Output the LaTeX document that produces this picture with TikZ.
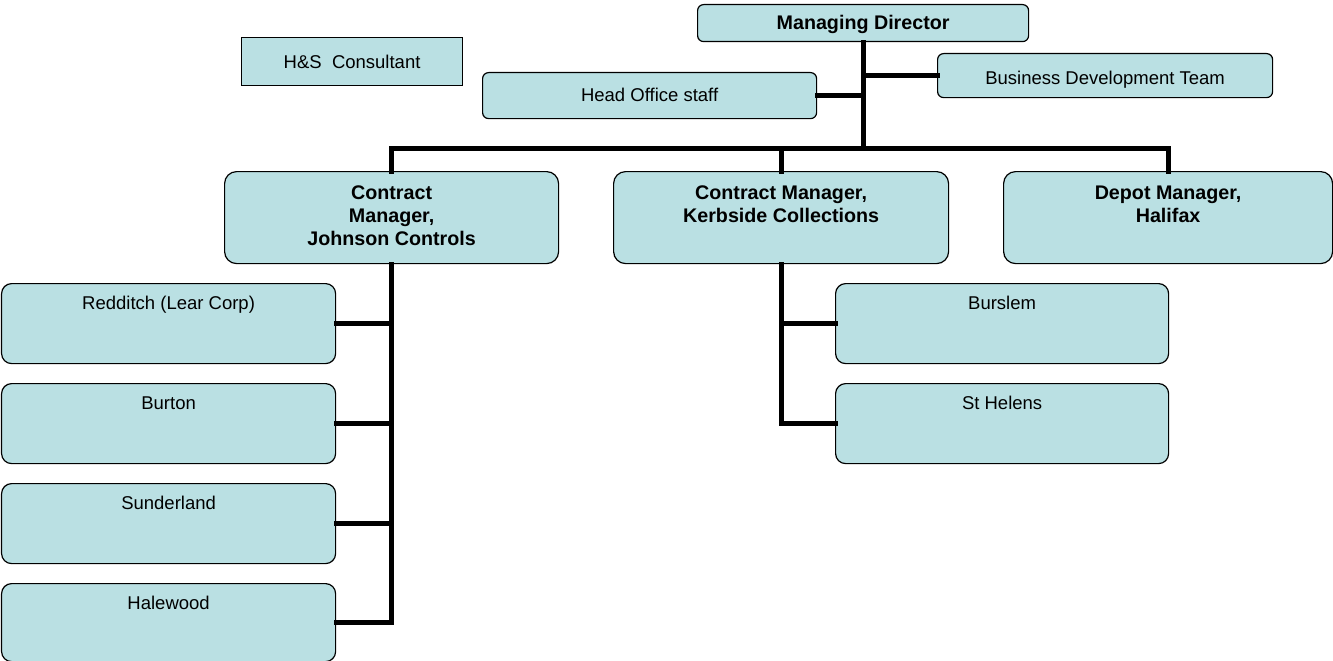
\documentclass[tikz,border=0pt]{standalone}
\usepackage{fontspec}
\setmainfont{Liberation Sans}
\definecolor{boxfill}{RGB}{186,224,227}
\newcommand{\tl}[1]{\begin{tabular}[t]{@{}c@{}}#1\end{tabular}}
\tikzset{
  basebox/.style={draw=black, line width=1.2pt, fill=boxfill, anchor=north west, inner sep=0pt,
     font=\fontsize{18.5}{22}\selectfont},
  boldtext/.style={font=\fontsize{19.7}{23}\selectfont\bfseries},
  mgr/.style={basebox, boldtext, rounded corners=12pt, minimum width=#1, text height=27.5pt, text depth=64.5pt},
  sub/.style={basebox, rounded corners=10pt, minimum width=334pt, text height=25.5pt, text depth=54.5pt},
  conn/.style={line width=5pt, line join=miter, line cap=rect},
}
\begin{document}
\begin{tikzpicture}[x=1pt, y=-1pt]
\useasboundingbox (0,0) rectangle (1333,661);
% top level
\node[basebox, boldtext, rounded corners=6pt, minimum width=331pt, text height=24.5pt, text depth=12.5pt] (md) at (697,4) {\tl{Managing Director}};
\node[basebox, rounded corners=0pt, sharp corners, minimum width=221pt, text height=30.5pt, text depth=17.5pt] (hs) at (241,37) {\tl{H\&S\ \ Consultant}};
\node[basebox, rounded corners=6pt, minimum width=334pt, text height=28.5pt, text depth=17.5pt] (hos) at (482,72) {\tl{Head Office staff}};
\node[basebox, rounded corners=6pt, minimum width=335pt, text height=30.5pt, text depth=13.5pt] (bdt) at (937,53) {\tl{Business Development Team}};
% managers
\node[mgr=334pt] (jc) at (224,171) {\tl{Contract\\Manager,\\Johnson Controls}};
\node[mgr=335pt] (km) at (613,171) {\tl{Contract Manager,\\Kerbside Collections}};
\node[mgr=329pt] (dm) at (1003,171) {\tl{Depot Manager,\\Halifax}};
% sub boxes
\node[sub] (red) at (1,283) {\tl{Redditch (Lear Corp)}};
\node[sub] (bton) at (1,383) {\tl{Burton}};
\node[sub] (sun) at (1,483) {\tl{Sunderland}};
\node[sub, text depth=52.5pt] (hal) at (1,583) {\tl{Halewood}};
\node[sub, minimum width=333pt] (bur) at (835,283) {\tl{Burslem}};
\node[sub, minimum width=333pt] (sth) at (835,383) {\tl{St Helens}};
% connectors
\coordinate (bus) at (0,148);
\draw[conn] (md.south) -- (md.south |- bus);
\draw[conn] (hos.east) -- (hos.east -| md.south);
\draw[conn] (bdt.west) -- (bdt.west -| md.south);
\draw[conn] (jc.north) |- (dm.north |- bus) -- (dm.north);
\draw[conn] (km.north) -- (km.north |- bus);
\draw[conn] (jc.south) |- (hal.east);
\draw[conn] (red.east) -- (red.east -| jc.south);
\draw[conn] (bton.east) -- (bton.east -| jc.south);
\draw[conn] (sun.east) -- (sun.east -| jc.south);
\draw[conn] (km.south) |- (sth.west);
\draw[conn] (bur.west) -- (bur.west -| km.south);
\end{tikzpicture}
\end{document}
